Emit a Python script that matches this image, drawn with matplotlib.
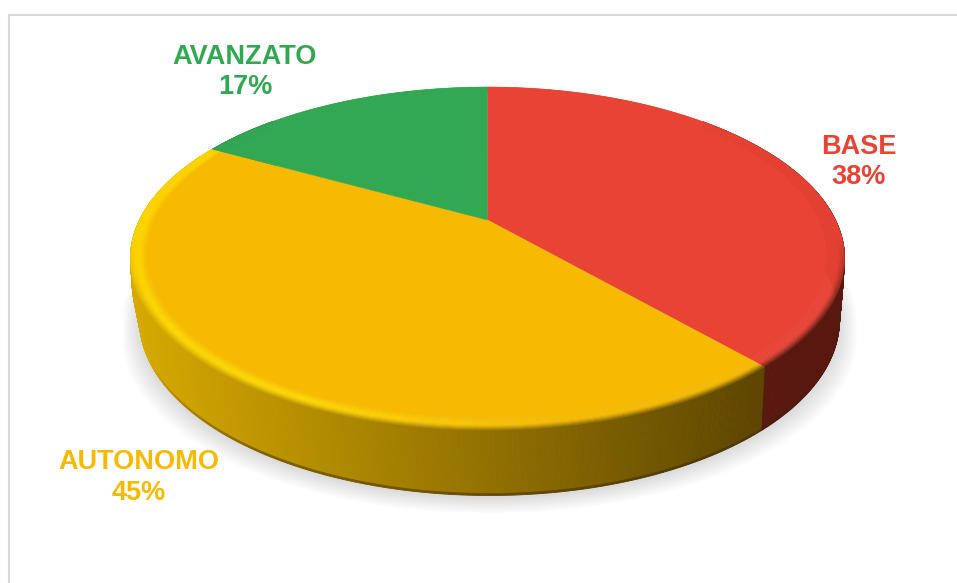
import numpy as np
import matplotlib
matplotlib.use("Agg")
import matplotlib.pyplot as plt
from matplotlib.collections import PolyCollection
from matplotlib.colors import to_rgb

categories = ["BASE", "AUTONOMO", "AVANZATO"]
values = [38.49, 44.51, 17.0]
colors = ["#E94335", "#F7BA00", "#33A853"]
side_left = ["#7A241C", "#D6A900", "#2A8A44"]
side_right = ["#58180F", "#5E4600", "#1C5C2D"]
label_pos = [(859, 162), (139, 477.5), (245, 72)]

# Perspective model of the disc (in pixels)
CX, CY, RX, AY, K = 487.5, 220.0, 348.0, 162.9, 0.2245
DEPTH, BOTTOM_SX, BOTTOM_SY, BOTTOM_DX = 60.6, 0.98, 1.023, 2.0
SHOULDER = 25.0


def project(theta, r=1.0, bottom=False):
    """theta: clockwise angle from 12 o'clock, radians."""
    u, v = r * np.sin(theta), r * np.cos(theta)
    w = 1 + K * v
    if bottom:
        return (CX + BOTTOM_DX + BOTTOM_SX * RX * u / w,
                CY + DEPTH - BOTTOM_SY * AY * v / w)
    return CX + RX * u / w, CY - AY * v / w


def mix(a, b, t):
    return tuple((1 - t) * np.array(a) + t * np.array(b))


fig = plt.figure(figsize=(9.57, 5.83), dpi=100, facecolor="white")
ax = fig.add_axes([0, 0, 1, 1])
ax.set_xlim(0, 957)
ax.set_ylim(583, 0)
ax.axis("off")

# Chart frame
ax.plot([8.5, 8.5, 957], [583, 14.5, 14.5], color="#D9D9D9", lw=1.5, zorder=0)

fracs = np.array(values) / sum(values)
edges = np.concatenate([[0], np.cumsum(fracs)]) * 2 * np.pi

# Soft shadow
full = np.linspace(0, 2 * np.pi, 361)
for grow in np.linspace(17, 0, 18):
    x, y = project(full, bottom=True)
    ax.fill(CX + 2 + (x - CX - 2) * (1 + grow / 340),
            y + 2 + grow * 0.95 * (y > CY + DEPTH + 40),
            color="#808080", alpha=0.016, lw=0, zorder=1)


# Side wall
def x_frac(x):
    return np.clip((x - 133) / (755 - 133), 0, 1)


for i in range(len(values)):
    a0, a1 = edges[i], edges[i + 1]
    th = np.linspace(a0, a1, max(4, int((a1 - a0) * 200)))
    polys, cols = [], []
    for t0, t1 in zip(th[:-1], th[1:]):
        tm = (t0 + t1) / 2
        if np.cos(tm) > 0.7:
            continue
        xa, ya = project(t0)
        xb, yb = project(t1)
        xc, yc = project(t1, bottom=True)
        xd, yd = project(t0, bottom=True)
        xm = (xa + xb) / 2
        if i == 0:
            base = to_rgb(side_right[0])
        elif i == 1:
            base = mix(to_rgb(side_left[1]), to_rgb(side_right[1]), x_frac(xm))
        else:
            base = to_rgb(side_right[2])
        # shoulder point keeps the bevelled silhouette on the far left and right
        sa = (CX + (xa - CX) * 0.995, ya + SHOULDER)
        sb = (CX + (xb - CX) * 0.995, yb + SHOULDER)
        # main wall, then a thin darker line at the base, strongest at the front
        f = 0.97
        xe, ye = xa + f * (xd - xa), ya + f * (yd - ya)
        xg, yg = xb + f * (xc - xb), yb + f * (yc - yb)
        polys.append([(xa, ya), (xb, yb), sb, (xg, yg), (xe, ye), sa])
        cols.append(base)
        polys.append([(xe, ye), (xg, yg), (xc, yc), (xd, yd)])
        cols.append(mix(base, (0.2, 0.12, 0), 0.45 * np.clip((-np.cos(tm) - 0.45) / 0.4, 0, 1)))
    ax.add_collection(PolyCollection(polys, facecolors=cols, edgecolors=cols,
                                     linewidths=0.6, zorder=2))

# Top face with bevelled rim
RIM = 0.95
for i in range(len(values)):
    a0, a1 = edges[i], edges[i + 1]
    th = np.linspace(a0, a1, 200)
    x, y = project(th, r=RIM + 0.002)
    ax.fill(np.r_[CX, x], np.r_[CY, y], color=colors[i], lw=0.3, zorder=3)

    base = to_rgb(colors[i])
    rs = np.linspace(RIM, 1.0, 14)
    th2 = np.linspace(a0, a1, max(4, int((a1 - a0) * 130)))
    polys, cols = [], []
    for t0, t1 in zip(th2[:-1], th2[1:]):
        tm = (t0 + t1) / 2
        xm, _ = project(tm)
        dark = np.clip((-np.cos(tm) - 0.1) / 0.4, 0, 1)
        if i == 1:
            wall = mix(to_rgb(side_left[1]), to_rgb(side_right[1]), x_frac(xm))
            glow = np.clip((560 - xm) / 260, 0, 1)
            high = mix(base, (1.0, 0.84, 0.0), glow)
        elif i == 0:
            wall = to_rgb(side_right[0])
            high = base
        else:
            wall = to_rgb(side_right[2])
            high = base
        for r0, r1 in zip(rs[:-1], rs[1:]):
            s = ((r0 + r1) / 2 - RIM) / (1 - RIM)
            # smooth rise towards the highlight, then fall into the wall colour
            rise = np.sin(np.clip(s / 0.6, 0, 1) * np.pi / 2) ** 2
            c = mix(base, high, rise)
            if s > 0.6:
                c = mix(c, wall, ((s - 0.6) / 0.4) ** 1.4 * 0.9 * dark)
            xa, ya = project(t0, r0)
            xb, yb = project(t1, r0)
            xc, yc = project(t1, r1)
            xd, yd = project(t0, r1)
            polys.append([(xa, ya), (xb, yb), (xc, yc), (xd, yd)])
            cols.append(c)
    ax.add_collection(PolyCollection(polys, facecolors=cols, edgecolors=cols,
                                     linewidths=0.3, zorder=4))

# Labels
for cat, val, col, (lx, ly) in zip(categories, values, colors, label_pos):
    ax.text(lx, ly, f"{cat}\n{val:.0f}%", color=col, ha="center", va="center",
            family="Liberation Sans", fontweight="bold", fontsize=19.5,
            linespacing=1.24, zorder=5)

fig.savefig("out.png", dpi=100, facecolor="white")
